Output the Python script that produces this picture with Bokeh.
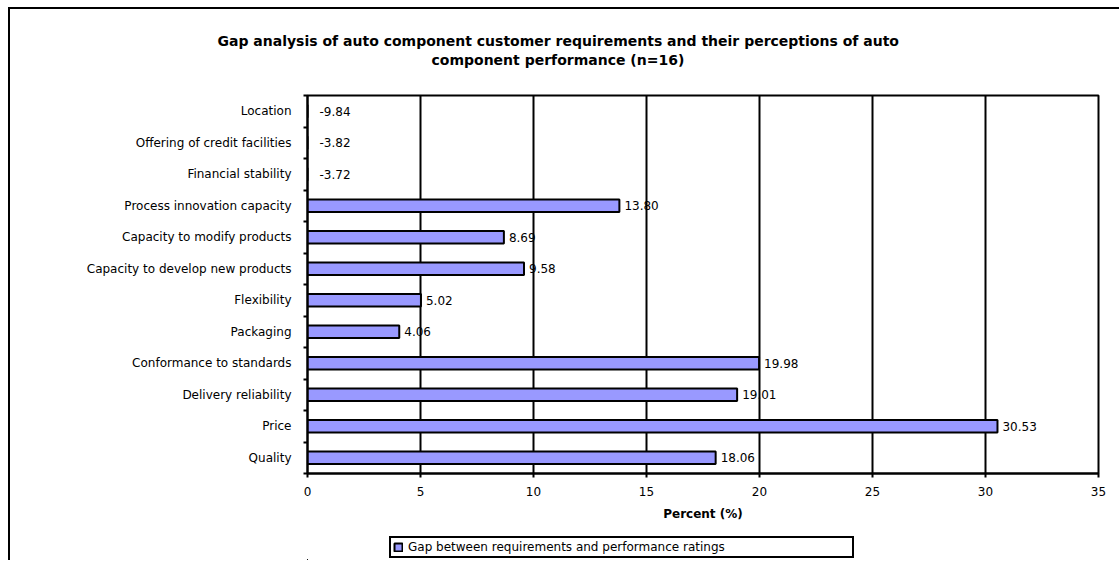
from bokeh.plotting import figure
from bokeh.layouts import column
from bokeh.models import (ColumnDataSource, FixedTicker, Legend, LegendItem,
                          Range1d, Title)
from bokeh.embed import file_html
from bokeh.resources import INLINE
from bokeh.core.properties import value

# ---- data (bottom to top) ----
categories = [
    "Quality",
    "Price",
    "Delivery reliability",
    "Conformance to standards",
    "Packaging",
    "Flexibility",
    "Capacity to develop new products",
    "Capacity to modify products",
    "Process innovation capacity",
    "Financial stability",
    "Offering of credit facilities",
    "Location",
]
gaps = [18.06, 30.53, 19.01, 19.98, 4.06, 5.02, 9.58, 8.69, 13.80, -3.72, -3.82, -9.84]
x_ticks = [0, 5, 10, 15, 20, 25, 30, 35]
series_name = "Gap between requirements and performance ratings"
title_lines = [
    "Gap analysis of auto component customer requirements and their perceptions of auto",
    "component performance (n=16)",
]
x_label = "Percent (%)"

FONT = "DejaVu Sans"
BAR_COLOR = "#9999FF"
W = 1109

pos = [i + 0.5 for i in range(len(categories))]
src = ColumnDataSource(dict(
    y=pos,
    gap=gaps,
    lx=[max(g, 0) for g in gaps],
    lbl=["%.2f" % g for g in gaps],
    xo=[5 if g >= 0 else 12 for g in gaps],
))

# ---------- main chart ----------
p = figure(
    width=W, height=520,
    x_range=Range1d(x_ticks[0], x_ticks[-1]),
    y_range=Range1d(0, len(categories)),
    output_backend="svg", toolbar_location=None,
    min_border_left=297, min_border_right=21,
    min_border_top=86, min_border_bottom=56,
)
p.background_fill_color = "white"
p.border_fill_color = "white"
p.outline_line_color = "black"
p.outline_line_width = 2
p.title.visible = False

# title lines, stacked upward from the plot: spacer, line 2, line 1
title_style = dict(align="left", text_font=FONT, text_font_style="bold",
                   text_font_size="14px", text_color="black")
p.add_layout(Title(text=" ", text_font_size="1px", standoff=25), "above")
p.add_layout(Title(text=title_lines[1], offset=124, standoff=0, **title_style), "above")
p.add_layout(Title(text=title_lines[0], offset=-90, standoff=2, **title_style), "above")

bars = p.hbar(y="y", left=0, right="gap", height=0.4, source=src,
              fill_color=BAR_COLOR, line_color="black", line_width=2)

p.text(x="lx", y="y", text="lbl", source=src, x_offset="xo",
       text_font=value(FONT), text_font_size="12px", text_color="black",
       text_align="left", text_baseline="middle")

p.ygrid.visible = False
p.xgrid.ticker = FixedTicker(ticks=x_ticks)
p.xgrid.grid_line_color = "black"
p.xgrid.grid_line_width = 2

xa = p.xaxis[0]
xa.ticker = FixedTicker(ticks=x_ticks)
xa.axis_line_width = 2
xa.major_tick_line_width = 2
xa.major_tick_in = 0
xa.major_tick_out = 4
xa.minor_tick_line_color = None
xa.major_label_text_font = FONT
xa.major_label_text_font_size = "12px"
xa.major_label_text_color = "black"
xa.major_label_standoff = 9
xa.axis_label = x_label
xa.axis_label_text_font = FONT
xa.axis_label_text_font_style = "bold"
xa.axis_label_text_font_size = "12px"
xa.axis_label_text_color = "black"
xa.axis_label_standoff = 8

ya = p.yaxis[0]
ya.ticker = FixedTicker(ticks=pos, minor_ticks=list(range(len(categories) + 1)))
ya.major_label_overrides = {pp: c for pp, c in zip(pos, categories)}
ya.axis_line_width = 2
ya.major_tick_line_color = None
ya.major_tick_in = 0
ya.major_tick_out = 0
ya.minor_tick_line_color = "black"
ya.minor_tick_line_width = 2
ya.minor_tick_in = 0
ya.minor_tick_out = 4
ya.major_label_text_font = FONT
ya.major_label_text_font_size = "12px"
ya.major_label_text_color = "black"
ya.major_label_standoff = 12

# ---------- legend strip ----------
LH = 31
pl = figure(width=W, height=LH, x_range=Range1d(1000, 1001), y_range=Range1d(1000, 1001),
            x_axis_type=None, y_axis_type=None, output_backend="svg",
            toolbar_location=None, min_border=0)
pl.outline_line_color = None
pl.grid.visible = False
lbars = pl.hbar(y="y", left=0, right="gap", height=0.4, source=src,
                fill_color=BAR_COLOR, line_color="black", line_width=2)
legend = Legend(items=[LegendItem(label=series_name, renderers=[lbars])],
                location=(82, 2), orientation="horizontal",
                border_line_color="black", border_line_width=2, border_line_alpha=1,
                background_fill_alpha=1, padding=2, margin=0,
                glyph_width=10, glyph_height=10, label_height=12,
                label_width=442, label_standoff=5,
                label_text_font=FONT, label_text_font_size="12px",
                label_text_color="black")
pl.add_layout(legend, "center")

layout = column(p, pl, spacing=0, margin=(7, 0, 0, 8),
                styles={"border-top": "2px solid black",
                        "border-left": "2px solid black"})

open("out.html", "w").write(file_html(layout, INLINE))
